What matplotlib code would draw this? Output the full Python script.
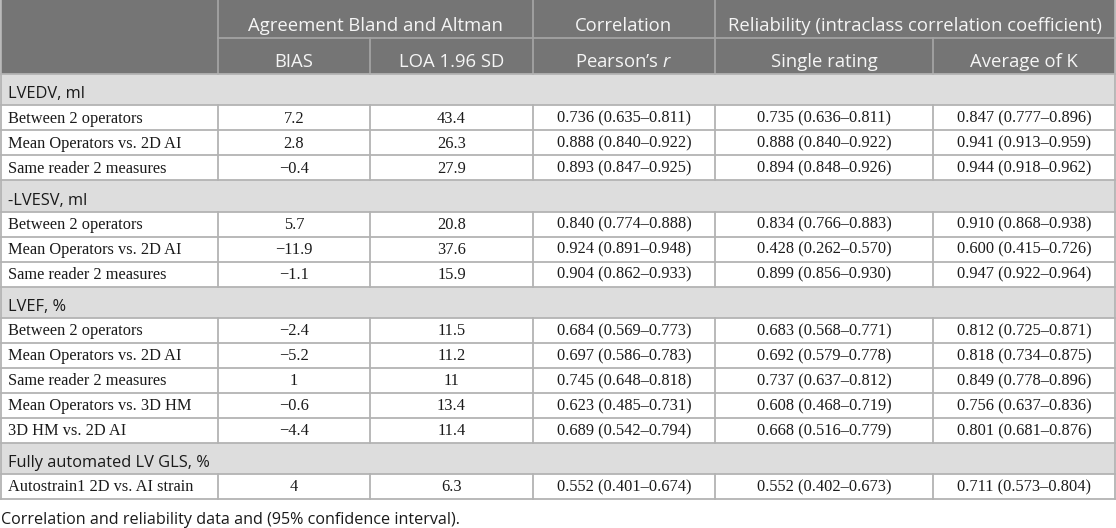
import matplotlib
matplotlib.use("Agg")
import matplotlib.pyplot as plt
from matplotlib.patches import Rectangle

plt.rcParams['mathtext.fontset'] = 'custom'
plt.rcParams['mathtext.it'] = 'Open Sans:italic'
plt.rcParams['mathtext.rm'] = 'Open Sans'

# table content
groups = ["LVEDV, ml", "-LVESV, ml", "LVEF, %", "Fully automated LV GLS, %"]
group_sizes = [3, 3, 5, 1]
comparisons = [
    "Between 2 operators", "Mean Operators vs. 2D AI", "Same reader 2 measures",
    "Between 2 operators", "Mean Operators vs. 2D AI", "Same reader 2 measures",
    "Between 2 operators", "Mean Operators vs. 2D AI", "Same reader 2 measures",
    "Mean Operators vs. 3D HM", "3D HM vs. 2D AI",
    "Autostrain1 2D vs. AI strain",
]
bias = [7.2, 2.8, -0.4, 5.7, -11.9, -1.1, -2.4, -5.2, 1, -0.6, -4.4, 4]
loa = [43.4, 26.3, 27.9, 20.8, 37.6, 15.9, 11.5, 11.2, 11, 13.4, 11.4, 6.3]
pearson = [(0.736, 0.635, 0.811), (0.888, 0.840, 0.922), (0.893, 0.847, 0.925),
           (0.840, 0.774, 0.888), (0.924, 0.891, 0.948), (0.904, 0.862, 0.933),
           (0.684, 0.569, 0.773), (0.697, 0.586, 0.783), (0.745, 0.648, 0.818),
           (0.623, 0.485, 0.731), (0.689, 0.542, 0.794), (0.552, 0.401, 0.674)]
icc_single = [(0.735, 0.636, 0.811), (0.888, 0.840, 0.922), (0.894, 0.848, 0.926),
              (0.834, 0.766, 0.883), (0.428, 0.262, 0.570), (0.899, 0.856, 0.930),
              (0.683, 0.568, 0.771), (0.692, 0.579, 0.778), (0.737, 0.637, 0.812),
              (0.608, 0.468, 0.719), (0.668, 0.516, 0.779), (0.552, 0.402, 0.673)]
icc_average = [(0.847, 0.777, 0.896), (0.941, 0.913, 0.959), (0.944, 0.918, 0.962),
               (0.910, 0.868, 0.938), (0.600, 0.415, 0.726), (0.947, 0.922, 0.964),
               (0.812, 0.725, 0.871), (0.818, 0.734, 0.875), (0.849, 0.778, 0.896),
               (0.756, 0.637, 0.836), (0.801, 0.681, 0.876), (0.711, 0.573, 0.804)]

top_headers = ["Agreement Bland and Altman", "Correlation",
               "Reliability (intraclass correlation coefficient)"]
top_spans = [(1, 3), (3, 4), (4, 6)]
sub_headers = ["BIAS", "LOA 1.96 SD", r"Pearson’s $\it{r}$", "Single rating", "Average of K"]
caption = "Correlation and reliability data and (95% confidence interval)."


def num(v):
    return ("%g" % v).replace("-", "\u2212")


def ci(t):
    return "%.3f (%.3f\u2013%.3f)" % t


# layout (pixels)
W, H = 1116, 528
col_x = [1, 218, 370, 533, 715, 933, 1115]
h1, h2 = 37.7, 74
sec_h, row_h = 31.25, 25

dark = "#757575"
light = "#dddddd"
line_c = "#b3b3b3"
head_line = "#a3a3a3"
sans = "Open Sans"
serif = "Liberation Serif"
fs_head, fs_sec, fs_data, fs_cap = 13.3, 11.8, 11.8, 11.6

fig = plt.figure(figsize=(W / 100, H / 100), dpi=100)
ax = fig.add_axes([0, 0, 1, 1])
ax.set_xlim(0, W)
ax.set_ylim(H, 0)
ax.axis("off")

# header
ax.add_patch(Rectangle((col_x[0], 0), col_x[-1] - col_x[0], h2, color=dark, lw=0))
for (a, b), t in zip(top_spans, top_headers):
    ax.text((col_x[a] + col_x[b]) / 2, 31, t, ha="center", va="baseline",
            family=sans, fontsize=fs_head, color="#f5f5f5")
for i, t in enumerate(sub_headers):
    ax.text((col_x[i + 1] + col_x[i + 2]) / 2, 67, t, ha="center",
            va="baseline", family=sans, fontsize=fs_head, color="#f5f5f5")
ax.plot([col_x[1], col_x[-1]], [h1, h1], color=head_line, lw=1.3)
for a, b in top_spans:
    ax.plot([col_x[a], col_x[a]], [0, h2], color=head_line, lw=1.3)
for i in (2, 5):
    ax.plot([col_x[i], col_x[i]], [h1, h2], color=head_line, lw=1.3)

# body
y = h2
k = 0
for g, n in zip(groups, group_sizes):
    ax.add_patch(Rectangle((col_x[0], y), col_x[-1] - col_x[0], sec_h, color=light, lw=0))
    ax.text(8, y + 24.5, g, ha="left", va="baseline", family=sans,
            fontsize=fs_sec, color="#1a1a1a")
    ax.plot([col_x[0], col_x[-1]], [y, y], color=line_c, lw=1.3)
    y += sec_h
    for j in range(n):
        ax.plot([col_x[0], col_x[-1]], [y, y], color=line_c, lw=1.3)
        cells = [num(bias[k]), num(loa[k]), ci(pearson[k]), ci(icc_single[k]),
                 ci(icc_average[k])]
        ax.text(8, y + 17.3, comparisons[k], ha="left", va="baseline",
                family=serif, fontsize=fs_data, color="#1a1a1a")
        for c, t in enumerate(cells):
            ax.text((col_x[c + 1] + col_x[c + 2]) / 2, y + 17.3, t,
                    ha="center", va="baseline", family=serif, fontsize=fs_data,
                    color="#1a1a1a")
        for x in col_x[1:-1]:
            ax.plot([x, x], [y, y + row_h], color=line_c, lw=1.3)
        y += row_h
        k += 1
ax.plot([col_x[0], col_x[-1]], [y, y], color=line_c, lw=1.3)
ax.plot([col_x[0], col_x[0]], [0, y], color=line_c, lw=1.3)
ax.plot([col_x[-1], col_x[-1]], [0, y], color=line_c, lw=1.3)

ax.text(1, y + 25.5, caption, ha="left", va="baseline", family=sans, fontsize=fs_cap,
        color="#1a1a1a")

fig.savefig("out.png", dpi=100)
